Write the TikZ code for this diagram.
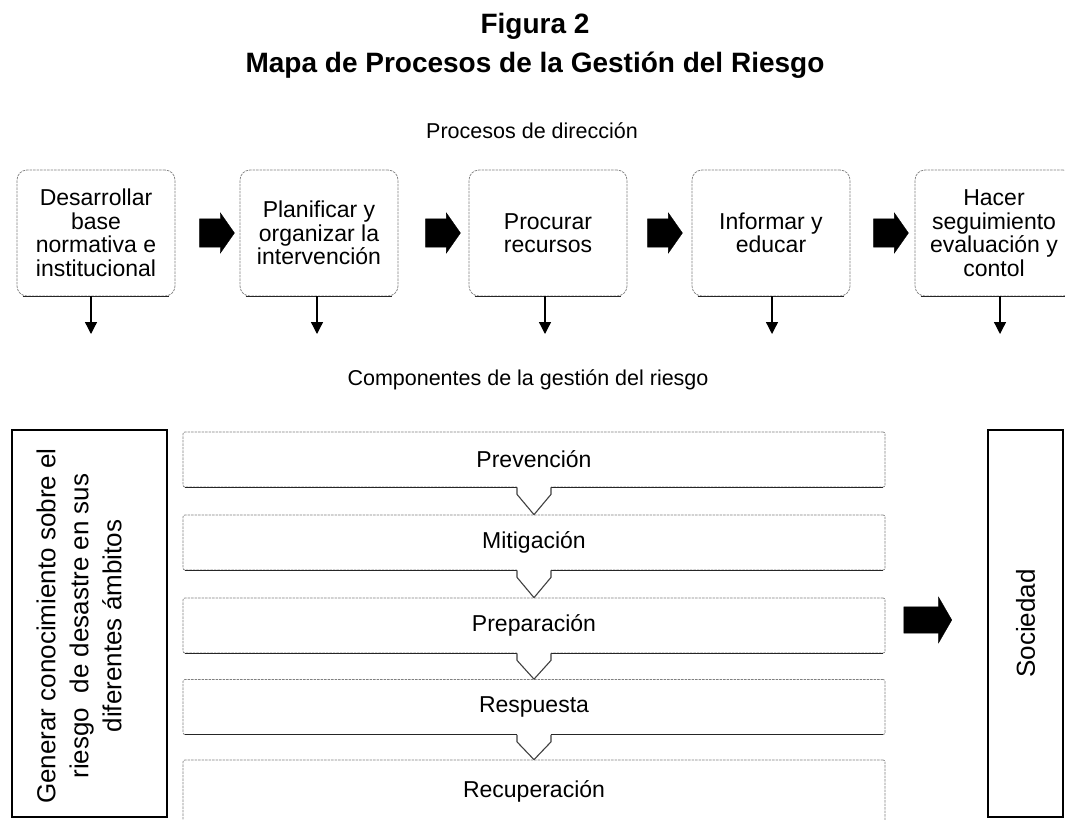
\documentclass[tikz,border=0pt]{standalone}
\usepackage{fontspec}
\setmainfont{Liberation Sans}
\usetikzlibrary{arrows.meta,shapes.arrows,calc}
\begin{document}
\begin{tikzpicture}[x=1pt,y=-1pt,
  faint/.style={draw=black!50, dash pattern=on 2.5pt off 1pt, line width=0.7pt},
  procbox/.style={faint, rounded corners=10pt, minimum width=158pt, minimum height=126pt,
    align=center, inner sep=0pt, font=\fontsize{23}{23.5}\selectfont},
  stagebox/.style={faint, rounded corners=2pt, minimum width=702pt, minimum height=55pt,
    inner sep=0pt, font=\fontsize{23}{26}\selectfont},
  bottomedge/.style={draw=black!85, line width=1.2pt},
  solidbox/.style={draw=black, line width=1.4pt, inner sep=0pt, rotate=90},
  fatarrow/.style={single arrow, fill=black, draw=black, line width=0.3pt,
    inner xsep=0pt, inner ysep=14pt,
    minimum height=35pt, minimum width=40pt, single arrow head extend=6pt,
    single arrow tip angle=110, single arrow head indent=0pt},
  downarrow/.style={draw=black, line width=1.3pt, -{Triangle[width=12pt,length=12pt]}},
  chevron/.style={draw=black!75, line width=1.1pt, line join=round},
  titlefont/.style={font=\fontsize{28}{30}\selectfont\bfseries},
  labelfont/.style={font=\fontsize{21.5}{25}\selectfont}
]
\clip (0,0) rectangle (1065,819);
\fill[white] (0,0) rectangle (1065,819);

% titles
\node[titlefont, anchor=base] (t1) at (535,33) {Figura 2};
\node[titlefont, anchor=base] (t2) at (535,72) {Mapa de Procesos de la Gestión del Riesgo};
\node[labelfont] (h1) at (532,131) {Procesos de dirección};
\node[labelfont] (h2) at (528,380) {Componentes de la gestión del riesgo};

% process boxes
\node[procbox] (b1) at (96,233) {Desarrollar\\base\\normativa e\\institucional};
\node[procbox] (b2) at (319,233) {Planificar y\\organizar la\\intervención};
\node[procbox] (b3) at (548,233) {Procurar\\recursos};
\node[procbox] (b4) at (771,233) {Informar y\\educar};
\node[procbox] (b5) at (994,233) {Hacer\\seguimiento\\evaluación y\\contol};
\foreach \b in {b1,b2,b3,b4,b5}{
  \draw[bottomedge] ([xshift=6pt]\b.south west) -- ([xshift=-6pt]\b.south east);
}

% fat arrows between process boxes
\node[fatarrow] (a1) at (212,233) {};
\node[fatarrow] (a2) at (438,233) {};
\node[fatarrow] (a3) at (660,233) {};
\node[fatarrow] (a4) at (886,233) {};

% down arrows
\coordinate (d1) at (91,334);
\coordinate (d2) at (317,334);
\coordinate (d3) at (545,334);
\coordinate (d4) at (772,334);
\coordinate (d5) at (1000,334);
\draw[downarrow] (b1.south -| d1) -- (d1);
\draw[downarrow] (b2.south -| d2) -- (d2);
\draw[downarrow] (b3.south -| d3) -- (d3);
\draw[downarrow] (b4.south -| d4) -- (d4);
\draw[downarrow] (b5.south -| d5) -- (d5);

% left and right boxes
\node[solidbox, minimum width=387pt, minimum height=155pt] (gen) at (89.5,623.5) {};
\node[rotate=90, align=center, inner sep=0pt, font=\fontsize{26}{33}\selectfont]
  (gentext) at (79,626)
  {Generar conocimiento sobre el\\riesgo~ de desastre en sus\\diferentes ámbitos};
\node[solidbox, minimum width=387pt, minimum height=75pt,
      font=\fontsize{26}{31}\selectfont] (soc) at (1025.5,623.5) {Sociedad};

% stage boxes
\node[stagebox] (s1) at (534,459.5) {Prevención};
\node[stagebox] (s2) at (534,542.5) {Mitigación};
\node[stagebox] (s3) at (534,625.5) {Preparación};
\node[stagebox] (s4) at (534,707) {Respuesta};
\node[stagebox, minimum height=62pt] (s5) at (534,791) {Recuperación};
\foreach \s in {s1,s2,s3,s4}{
  \draw[bottomedge] ([xshift=2pt]\s.south west) -- ([xshift=-2pt]\s.south east);
}

% chevrons between stages
\foreach \a/\b in {s1/s2,s2/s3,s3/s4,s4/s5}{
  \draw[white, line width=3pt] ($(\a.south)+(-17,0)$) -- ($(\a.south)+(17,0)$);
  \draw[chevron] ($(\a.south)+(-17,0)$) -- ($(\a.south)+(-17,7)$) -- (\b.north)
     -- ($(\a.south)+(17,7)$) -- ($(\a.south)+(17,0)$);
}

% big arrow to society
\node[fatarrow, inner ysep=13pt, minimum height=48pt, minimum width=46pt,
      single arrow head extend=10pt, single arrow tip angle=120] (a5) at (924,620) {};
\end{tikzpicture}
\end{document}
